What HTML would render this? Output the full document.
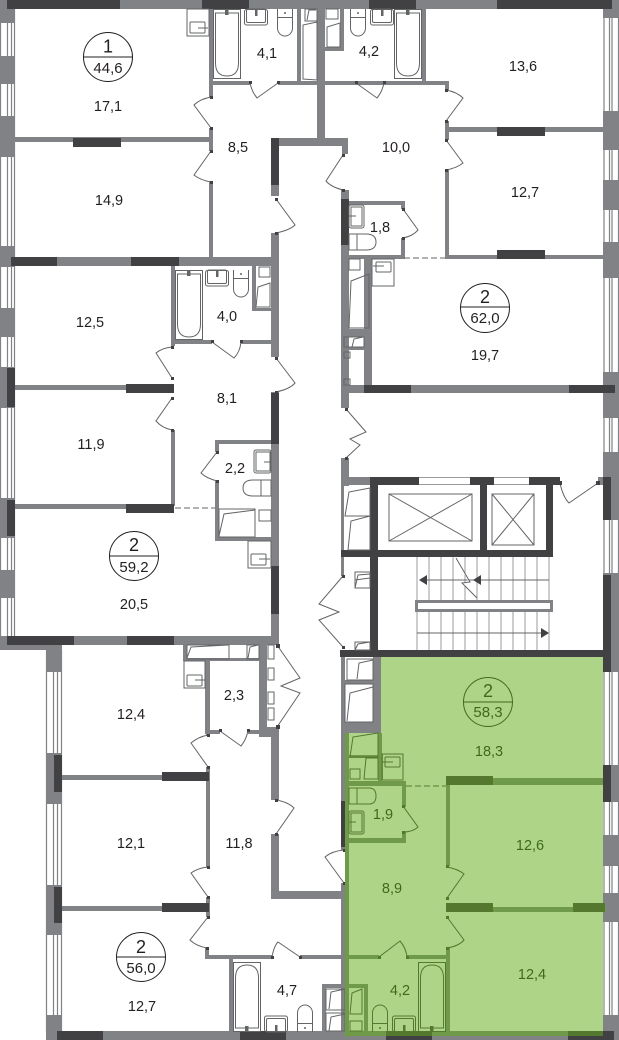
<!DOCTYPE html>
<html><head><meta charset="utf-8"><style>
html,body{margin:0;padding:0;background:#fff}
svg{display:block;filter:blur(.35px)}
text{font-family:"Liberation Sans",sans-serif;fill:#231f20;text-anchor:middle;font-size:14.5px}
.g text,text.gt{fill:#3f6a1c}
.w{fill:#808285}.d{fill:#414042}
.gw{fill:#6f9a4a}.gd{fill:#55782f}
.l{fill:none;stroke:#636466;stroke-width:1}
.gl{fill:none;stroke:#55782f;stroke-width:1}
.p{fill:#414042}
.pg{fill:#4f7a2b}
.c{font-size:18px}.a{font-size:15px}
</style></head><body>
<svg width="619" height="1040" viewBox="0 0 619 1040" xmlns="http://www.w3.org/2000/svg">
<defs>
<g id="tub"><rect x=".5" y=".5" width="27" height="69" fill="none" stroke="currentColor"/><path d="M2.5 4H25.500V54Q25.500 67 14 67Q2.500 67 2.500 54Z" fill="none" stroke="currentColor"/><rect x="12" y="0" width="3.500" height="6" fill="currentColor"/></g>
<g id="sink"><rect x=".5" y=".5" width="23" height="15.500" rx="2" fill="none" stroke="currentColor"/><rect x="2.500" y="0" width="19" height="13.500" rx="1.500" fill="none" stroke="currentColor"/><rect x="11" y="0" width="2.500" height="7" fill="currentColor"/></g>
<g id="toilet"><path d="M.5 0V8.500H15.500V0" fill="none" stroke="currentColor"/><path d="M.5 9V19A7.500 8 0 0 0 15.500 19V9" fill="none" stroke="currentColor"/><circle cx="8" cy="4" r="1" fill="currentColor"/></g>
</defs>

<!-- green apartment -->
<polygon points="381,657 603,657 603,1037 345,1037 345,733 381,733" fill="#aed487"/>

<!-- window lines -->
<g stroke="#808285" stroke-width="1.200" fill="none">
<path d="M.5 9V636M7.500 9V636M11.500 9V636M14.500 9V636"/>
<path d="M46.500 650V1032M53.500 650V1032M57.500 650V1032M61.500 650V1032"/>
<path d="M604 9V1032M609.500 9V1032M612 9V1032M618.500 9V1032"/>
</g>

<!-- outer walls: left -->
<g class="w">
<rect x="0" y="0" width="15" height="23"/><rect x="0" y="56" width="15" height="28"/><rect x="0" y="116" width="15" height="41"/>
<rect x="0" y="246" width="15" height="21"/><rect x="0" y="308" width="15" height="29"/><rect x="0" y="367" width="15" height="41"/>
<rect x="0" y="498" width="15" height="40"/><rect x="0" y="570" width="15" height="28"/>
<rect x="0" y="636" width="62" height="14"/><rect x="46" y="645" width="16" height="27"/>
<rect x="46" y="753" width="16" height="51"/><rect x="46" y="885" width="16" height="50"/><rect x="46" y="1015" width="16" height="25"/>
<!-- right -->
<rect x="603" y="0" width="16" height="18"/><rect x="603" y="111" width="16" height="39"/><rect x="603" y="180" width="16" height="30"/>
<rect x="603" y="242" width="16" height="36"/><rect x="603" y="372" width="16" height="46"/><rect x="603" y="452" width="16" height="68"/>
<rect x="603" y="573" width="16" height="99"/><rect x="603" y="765" width="16" height="37"/><rect x="603" y="835" width="16" height="31"/>
<rect x="603" y="893" width="16" height="29"/><rect x="603" y="1015" width="16" height="25"/>
<!-- top / bottom -->
<rect x="7" y="0" width="605" height="9"/><rect x="46" y="1031" width="573" height="9"/>
</g>
<g class="d">
<rect x="7" y="0" width="113" height="9"/><rect x="202" y="0" width="47" height="9"/><rect x="369" y="0" width="47" height="9"/><rect x="497" y="0" width="115" height="9"/>
<rect x="57" y="1031" width="46" height="9"/><rect x="240" y="1031" width="46" height="9"/><rect x="386" y="1031" width="46" height="9"/><rect x="568" y="1031" width="46" height="9"/>
<rect x="7" y="368" width="8" height="39"/><rect x="7" y="500" width="8" height="36"/>
<rect x="54" y="755" width="8" height="37"/><rect x="54" y="887" width="8" height="36"/>
<rect x="603" y="477" width="8" height="43"/><rect x="603" y="575" width="8" height="97"/><rect x="603" y="765" width="8" height="37"/>
</g>

<!-- interior walls upper left -->
<g class="w">
<rect x="15" y="137" width="196" height="5"/>
<rect x="209" y="9" width="4" height="88"/><rect x="209" y="128" width="4" height="23"/><rect x="209" y="182" width="4" height="76"/>
<rect x="209" y="81" width="41" height="4"/><rect x="278" y="81" width="170" height="4"/>
<rect x="297" y="9" width="4" height="72"/><rect x="317" y="9" width="8" height="133"/>
<rect x="325" y="47" width="19" height="4"/><rect x="340" y="9" width="4" height="42"/><rect x="422" y="9" width="4" height="72"/>
<rect x="271" y="138" width="77" height="8"/><rect x="342" y="138" width="6" height="16"/>
<rect x="271" y="138" width="8" height="58"/><rect x="271" y="233" width="8" height="124"/>
<rect x="11" y="257" width="268" height="9"/>
<rect x="341" y="190" width="8" height="218"/><rect x="341" y="458" width="8" height="28"/>
<rect x="349" y="201" width="55" height="4"/><rect x="401" y="201" width="4" height="8"/><rect x="401" y="238" width="4" height="20"/>
<rect x="349" y="255" width="56" height="4"/>
<rect x="445" y="81" width="4" height="9"/><rect x="445" y="121" width="4" height="19"/><rect x="445" y="170" width="4" height="89"/>
<rect x="449" y="127" width="154" height="5"/><rect x="449" y="255" width="154" height="4"/>
<rect x="364" y="259" width="8" height="126"/><rect x="341" y="329" width="31" height="8"/><rect x="341" y="347" width="31" height="3"/>
<rect x="341" y="385" width="262" height="8"/>
<!-- left middle -->
<rect x="171" y="266" width="4" height="80"/><rect x="171" y="340" width="41" height="4"/><rect x="241" y="340" width="31" height="4"/>
<rect x="252" y="266" width="4" height="45"/><rect x="252" y="308" width="19" height="3"/>
<rect x="271" y="392" width="8" height="253"/>
<rect x="15" y="385" width="158" height="5"/><rect x="15" y="504" width="158" height="5"/>
<rect x="171" y="430" width="4" height="76"/>
<rect x="215" y="440" width="56" height="4"/><rect x="215" y="440" width="4" height="12"/><rect x="215" y="481" width="4" height="60"/><rect x="215" y="537" width="56" height="4"/>
<rect x="0" y="636" width="279" height="9"/>
<!-- below left -->
<rect x="183" y="645" width="4" height="16"/><rect x="183" y="658" width="76" height="3"/><rect x="205" y="658" width="5" height="76"/>
<rect x="259" y="645" width="8" height="92"/><rect x="205" y="730" width="15" height="4"/><rect x="248" y="730" width="31" height="4"/><rect x="267" y="727" width="12" height="10"/>
<rect x="271" y="727" width="8" height="73"/><rect x="271" y="834" width="8" height="65"/><rect x="271" y="891" width="74" height="8"/>
<rect x="62" y="775" width="146" height="5"/><rect x="62" y="906" width="146" height="5"/>
<rect x="206" y="734" width="4" height="2"/><rect x="206" y="767" width="4" height="100"/><rect x="206" y="897" width="4" height="20"/>
<rect x="205" y="948" width="4" height="11"/><rect x="205" y="955" width="67" height="4"/><rect x="300" y="955" width="45" height="4"/>
<rect x="229" y="959" width="4" height="72"/>
<rect x="322" y="984" width="23" height="4"/><rect x="322" y="984" width="4" height="47"/>
<rect x="341" y="733" width="4" height="117"/><rect x="341" y="883" width="4" height="149"/>
<!-- lobby -->
<rect x="341" y="477" width="29" height="8"/><rect x="341" y="485" width="3" height="91"/>
<rect x="341" y="657" width="4" height="76"/><rect x="373" y="657" width="8" height="76"/><rect x="341" y="680" width="32" height="4"/><rect x="341" y="722" width="40" height="11"/>
<rect x="598" y="477" width="5" height="8"/>
</g>
<g class="d">
<rect x="73" y="138" width="48" height="9"/>
<rect x="271" y="138" width="8" height="47"/>
<rect x="11" y="257" width="46" height="9"/><rect x="131" y="257" width="48" height="9"/>
<rect x="341" y="199" width="8" height="46"/>
<rect x="497" y="127" width="48" height="9"/><rect x="497" y="250" width="48" height="9"/>
<rect x="364" y="385" width="47" height="8"/><rect x="569" y="385" width="46" height="8"/>
<rect x="126" y="384" width="48" height="9"/><rect x="126" y="504" width="48" height="9"/>
<rect x="271" y="393" width="8" height="51"/><rect x="271" y="566" width="8" height="48"/>
<rect x="7" y="636" width="67" height="9"/><rect x="127" y="636" width="47" height="9"/>
<rect x="162" y="772" width="47" height="9"/><rect x="162" y="903" width="47" height="9"/>
<!-- elevator core -->
<rect x="370" y="477" width="49" height="8"/><rect x="470" y="477" width="24" height="8"/><rect x="529" y="477" width="31" height="8"/>
<rect x="370" y="477" width="8" height="180"/><rect x="480" y="477" width="7" height="80"/><rect x="546" y="477" width="7" height="80"/>
<rect x="341" y="550" width="212" height="7"/><rect x="340" y="650" width="263" height="7"/>
</g>
<path d="M419 477.500H470M419 484.500H470M494 477.500H529M494 484.500H529" stroke="#9a9b9d" stroke-width="1" fill="none"/>

<!-- shafts -->
<g class="l">
<rect x="389" y="494" width="83" height="47"/><path d="M389 494L472 541M472 494L389 541"/>
<rect x="492" y="494" width="42" height="51"/><path d="M492 494L534 545M534 494L492 545"/>
</g>
<!-- stairs -->
<g stroke="#9a9b9d" stroke-width="1" fill="none">
<path d="M417 557V600M429 557V600M441 557V600M453 557V600M465 557V600M477 557V600M489 557V600M501 557V600M513 557V600M525 557V600M537 557V600M549 557V600"/>
<path d="M417 612V650M429 612V650M441 612V650M453 612V650M465 612V650M477 612V650M489 612V650M501 612V650M513 612V650M525 612V650M537 612V650M549 612V650"/>
</g>
<rect x="416.500" y="601.500" width="135" height="9" fill="#fff" stroke="#808285" stroke-width="3"/>
<path d="M421 580H549M417 633H545" stroke="#636466" fill="none"/>
<path d="M456 558L470 582L462 583L477 598" stroke="#636466" fill="#fff"/>
<path d="M419 580L427 575V585ZM473 580L481 575V585ZM549 633L541 628V638Z" fill="#414042"/>

<!-- doors -->
<g class="l">
<path d="M250 83Q252 92 257 98L278 83"/>
<path d="M356 83L377 98Q382 92 384 83"/>
<path d="M211 97Q200 99 194 105L211 128"/>
<path d="M211 151L194 175Q200 180 211 182"/>
<path d="M276 199L295 225Q290 230 276 233"/>
<path d="M446 90Q457 92 463 98L446 121"/>
<path d="M446 140L463 163Q457 168 446 170"/>
<path d="M343 155L326 181Q331 187 343 190"/>
<path d="M403 209L418 230Q413 236 403 238"/>
<path d="M212 342L234 358Q240 352 241 342"/>
<path d="M172 347Q162 348 156 353L172 378"/>
<path d="M172 398L156 421Q162 428 172 430"/>
<path d="M276 358L295 383Q290 389 276 392"/>
<path d="M217 452L201 473Q206 478 217 481"/>
<path d="M346 409L366 432L350 439L360 445L346 458"/>
<path d="M343 576L319 604L339 612L319 620L343 647"/>
<path d="M560 483Q563 497 569 503L598 483"/>
<path d="M277 645L300 678L281 686L300 693L277 727"/>
<path d="M220 731L241 746Q246 740 248 731"/>
<path d="M208 735Q198 737 191 743L208 767"/>
<path d="M276 800Q288 802 294 808L276 834"/>
<path d="M208 867Q198 868 191 873L208 897"/>
<path d="M208 917L190 940Q196 946 207 948"/>
<path d="M272 957Q274 946 278 942L300 957"/>
<path d="M344 850Q332 851 325 857L344 883"/>
</g>
<g class="p">
<rect x="249" y="81" width="3" height="3"/><rect x="277" y="81" width="3" height="3"/><rect x="355" y="81" width="3" height="3"/><rect x="383" y="81" width="3" height="3"/>
<rect x="210" y="96" width="3" height="3"/><rect x="210" y="127" width="3" height="3"/><rect x="210" y="150" width="3" height="3"/><rect x="210" y="181" width="3" height="3"/>
<rect x="275" y="198" width="3" height="3"/><rect x="275" y="232" width="3" height="3"/>
<rect x="445" y="89" width="3" height="3"/><rect x="445" y="120" width="3" height="3"/><rect x="445" y="139" width="3" height="3"/><rect x="445" y="169" width="3" height="3"/>
<rect x="342" y="154" width="3" height="3"/><rect x="342" y="189" width="3" height="3"/><rect x="402" y="208" width="3" height="3"/><rect x="402" y="237" width="3" height="3"/>
<rect x="211" y="340" width="3" height="3"/><rect x="240" y="340" width="3" height="3"/><rect x="171" y="346" width="3" height="3"/><rect x="171" y="377" width="3" height="3"/>
<rect x="171" y="397" width="3" height="3"/><rect x="171" y="429" width="3" height="3"/><rect x="275" y="357" width="3" height="3"/><rect x="275" y="391" width="3" height="3"/>
<rect x="216" y="451" width="3" height="3"/><rect x="216" y="480" width="3" height="3"/><rect x="345" y="408" width="3" height="3"/><rect x="345" y="457" width="3" height="3"/>
<rect x="342" y="575" width="3" height="3"/><rect x="342" y="646" width="3" height="3"/><rect x="558" y="481" width="4" height="4"/><rect x="596" y="481" width="4" height="4"/>
<rect x="276" y="644" width="4" height="4"/><rect x="276" y="725" width="4" height="4"/><rect x="219" y="729" width="3" height="3"/><rect x="247" y="729" width="3" height="3"/>
<rect x="207" y="734" width="3" height="3"/><rect x="207" y="766" width="3" height="3"/><rect x="275" y="799" width="3" height="3"/><rect x="275" y="833" width="3" height="3"/>
<rect x="207" y="866" width="3" height="3"/><rect x="207" y="896" width="3" height="3"/><rect x="207" y="916" width="3" height="3"/><rect x="206" y="947" width="3" height="3"/>
<rect x="271" y="956" width="3" height="3"/><rect x="299" y="956" width="3" height="3"/><rect x="343" y="849" width="3" height="3"/><rect x="343" y="882" width="3" height="3"/>
</g>
<!-- dashed partitions -->
<path d="M404 258H445M175 508H215" stroke="#636466" stroke-dasharray="6 3" fill="none"/>

<!-- plumbing, grey -->
<g color="#636466">
<use href="#tub" x="213" y="9"/><use href="#sink" x="244" y="9"/><use href="#toilet" x="277" y="9"/>
<use href="#toilet" transform="translate(366,9) scale(-1,1)"/><use href="#sink" x="370" y="9"/><use href="#tub" x="394" y="9"/>
<use href="#tub" x="175" y="270"/><use href="#sink" x="205" y="270"/><use href="#toilet" x="233" y="270"/>
<use href="#tub" transform="translate(233,1032) scale(1,-1)"/><use href="#sink" transform="translate(264,1032) scale(1,-1)"/><use href="#toilet" transform="translate(297,1032) scale(1,-1)"/>
</g>
<g class="l">
<rect x="187" y="9" width="22" height="27"/><rect x="190" y="22" width="15" height="11" rx="1"/><path d="M198 28H208"/>
<rect x="305" y="9" width="12" height="12"/><path d="M307 20L309 10L316 10"/><path d="M303 79V25L317 22V80Z"/>
<rect x="326" y="9" width="12" height="10"/><path d="M327 47V27L340 23V47Z"/>
<rect x="259" y="267" width="11" height="10"/><path d="M256 307L258 287L270 283V307Z"/>
<rect x="349" y="205" width="15" height="23" rx="2"/><rect x="351" y="207" width="11" height="19"/><path d="M349 216H356"/>
<path d="M349 234H366Q376 234 376 242Q376 250 366 250H349Z"/><path d="M357 234V250"/>
<rect x="349" y="259" width="11" height="11"/><path d="M349 328L351 281L369 274V328Z"/>
<rect x="372" y="259" width="22" height="27"/><rect x="376" y="262" width="15" height="10" rx="1"/><path d="M373 266H384"/>
<rect x="344" y="337" width="20" height="10"/><path d="M352 347L354 339L363 337"/><rect x="344" y="352" width="6" height="6"/><rect x="344" y="379" width="6" height="6"/>
<rect x="254" y="450" width="17" height="23" rx="2"/><rect x="256" y="452" width="14" height="19"/><path d="M264 462H271"/>
<path d="M263 480H253Q243 480 243 488Q243 496 253 496H271V480ZM261 480V496"/>
<rect x="219" y="509" width="36" height="28"/><path d="M219 536L224 514L255 510"/>
<rect x="259" y="510" width="12" height="11"/>
<rect x="248" y="541" width="23" height="27"/><rect x="251" y="554" width="15" height="11" rx="1"/><path d="M259 559H270"/>
<rect x="187" y="645" width="42" height="14"/><path d="M187 658L191 647L228 645"/>
<rect x="247" y="645" width="12" height="14"/><path d="M248 658L250 647L258 645"/>
<rect x="184" y="661" width="21" height="27"/><rect x="187" y="675" width="15" height="11" rx="1"/><path d="M195 680H205"/>
<rect x="268" y="645" width="6" height="14"/><rect x="268" y="668" width="6" height="12"/><rect x="268" y="692" width="6" height="12"/><rect x="268" y="708" width="6" height="12"/>
<path d="M345 516L349 492L370 488V516ZM348 550L351 521L370 516V550Z"/>
<rect x="355" y="572" width="15" height="16"/><path d="M355 588L358 575L370 574M355 580L370 578"/>
<rect x="355" y="642" width="15" height="8"/><path d="M355 650L358 644L370 642"/>
<rect x="347" y="659" width="26" height="21"/><path d="M357 679L359 663L373 660"/>
<rect x="345" y="684" width="28" height="38"/><path d="M347 721L350 693L373 687"/>
<rect x="326" y="989" width="19" height="21"/><path d="M329 1009L331 992L345 989"/>
<rect x="326" y="1013" width="19" height="18"/><path d="M329 1031L331 1017L345 1014"/>
</g>

<!-- green walls -->
<g class="gw">
<rect x="345" y="733" width="4" height="304"/><rect x="378" y="733" width="4" height="48"/>
<rect x="349" y="755" width="30" height="3"/>
<rect x="346" y="781" width="60" height="5"/><rect x="402" y="781" width="4" height="26"/><rect x="402" y="832" width="4" height="10"/><rect x="346" y="838" width="60" height="5"/>
<rect x="446" y="778" width="157" height="7"/><rect x="446" y="785" width="4" height="81"/>
<rect x="446" y="907" width="160" height="5"/>
<rect x="446" y="948" width="4" height="85"/>
<rect x="347" y="955" width="32" height="4"/><rect x="407" y="955" width="41" height="4"/>
<rect x="345" y="984" width="23" height="4"/><rect x="364" y="984" width="4" height="49"/>
<rect x="345" y="1031" width="258" height="5"/>
<rect x="381" y="754" width="2" height="26"/>
</g>
<g class="gd">
<rect x="446" y="776" width="47" height="9"/><rect x="446" y="903" width="47" height="9"/><rect x="573" y="903" width="32" height="9"/>
<rect x="386" y="1031" width="46" height="5"/><rect x="568" y="1031" width="35" height="5"/>
</g>
<rect x="341" y="801" width="4" height="46" fill="#414042"/>
<g class="gl">
<path d="M406 786H446" stroke-dasharray="6 3"/>
<path d="M403 806L418 827Q413 832 403 832"/>
<path d="M447 867Q458 869 464 874L447 898"/>
<path d="M447 917L464 940Q459 946 447 948"/>
<path d="M379 957L400 941Q406 948 407 957"/>
<path d="M350 757L353 737L378 733V757ZM350 779V769H360V779ZM364 779L366 758H378V779Z"/>
<rect x="382" y="754" width="21" height="26"/><rect x="385" y="757" width="15" height="10" rx="1"/><path d="M382 762H393"/>
<path d="M369 788H349V804H369Q376 804 376 796Q376 788 369 788ZM357 788V804"/>
<rect x="349" y="811" width="15" height="23" rx="2"/><rect x="351" y="813" width="11" height="19"/><path d="M349 822H356"/>
<path d="M350 1014L352 993L362 989V1014ZM350 1031V1021H362V1031Z"/>
</g>
<g color="#55782f">
<use href="#tub" transform="translate(418,1032) scale(1,-1)"/><use href="#sink" transform="translate(392,1032) scale(1,-1)"/><use href="#toilet" transform="translate(372,1032) scale(1,-1)"/>
</g>
<g class="pg">
<rect x="402" y="805" width="3" height="3"/><rect x="402" y="831" width="3" height="3"/><rect x="446" y="865" width="3" height="3"/><rect x="446" y="897" width="3" height="3"/>
<rect x="446" y="916" width="3" height="3"/><rect x="446" y="947" width="3" height="3"/><rect x="378" y="956" width="3" height="3"/><rect x="406" y="956" width="3" height="3"/>
</g>

<!-- circles -->
<g fill="none" stroke="#231f20" stroke-width="1">
<circle cx="108" cy="57" r="24.500"/><path d="M83.500 57H132.500"/>
<circle cx="485" cy="308" r="24.500"/><path d="M460.500 307H509.500"/>
<circle cx="134" cy="556" r="24.500"/><path d="M109.500 556H158.500"/>
<circle cx="141" cy="957" r="24.500"/><path d="M116.500 957H165.500"/>
</g>
<g fill="none" stroke="#3f6a1c" stroke-width="1"><circle cx="488" cy="702" r="24.500"/><path d="M463.500 702H512.500"/></g>

<!-- labels -->
<text class="c" x="108" y="52.500" style="font-size:18px">1</text><text x="108" y="73" style="font-size:15px">44,6</text>
<text x="108" y="111">17,1</text><text x="109" y="205">14,9</text><text x="238" y="152">8,5</text>
<text x="267" y="58">4,1</text><text x="369" y="56">4,2</text><text x="523" y="71">13,6</text>
<text x="396" y="152">10,0</text><text x="525" y="197">12,7</text><text x="380" y="232">1,8</text>
<text x="485" y="303" style="font-size:18px">2</text><text x="485" y="323" style="font-size:15px">62,0</text><text x="485" y="360">19,7</text>
<text x="90" y="327">12,5</text><text x="227" y="321">4,0</text><text x="227" y="403">8,1</text>
<text x="91" y="449">11,9</text><text x="235" y="473">2,2</text>
<text x="134" y="551" style="font-size:18px">2</text><text x="134" y="572" style="font-size:15px">59,2</text><text x="134" y="609">20,5</text>
<text x="131" y="719">12,4</text><text x="234" y="700">2,3</text><text x="131" y="848">12,1</text><text x="239" y="848">11,8</text>
<text x="141" y="953" style="font-size:18px">2</text><text x="141" y="973" style="font-size:15px">56,0</text><text x="142" y="1011">12,7</text><text x="287" y="995">4,7</text>
<g class="g">
<text x="488" y="697" style="font-size:18px">2</text><text x="488" y="717" style="font-size:15px">58,3</text>
<text x="489" y="756">18,3</text><text x="383" y="819">1,9</text><text x="392" y="893">8,9</text>
<text x="530" y="850">12,6</text><text x="532" y="979">12,4</text><text x="400" y="995">4,2</text>
</g>
</svg>
</body></html>
